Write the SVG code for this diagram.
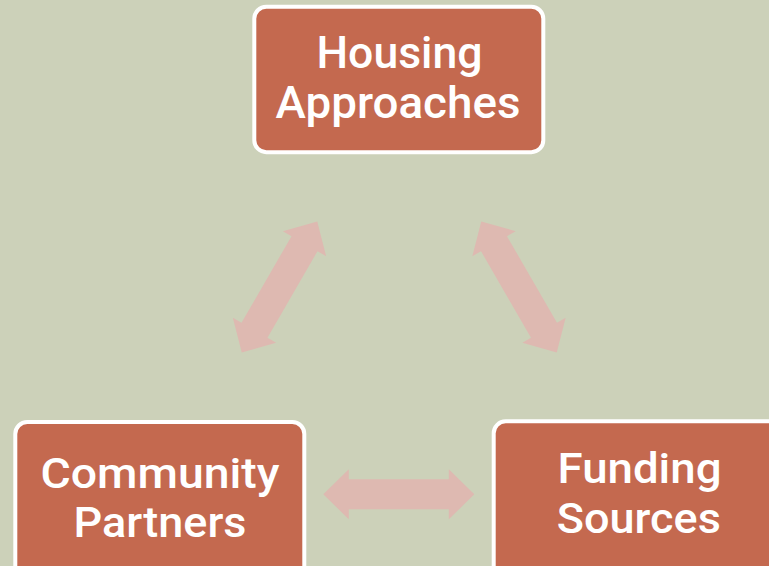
<svg xmlns="http://www.w3.org/2000/svg" width="769" height="566" viewBox="0 0 769 566">
<defs>
<style>
.box{fill:#C4694F;stroke:#FFFFFF;stroke-width:4}
.lbl{font-family:Roboto,"Liberation Sans",Arial,sans-serif;font-weight:500;fill:#FFFFFF;text-anchor:middle}
.top{font-size:45px}
.bot{font-size:42px}
.arr{fill:#DEB9B1}
</style>
<path id="dblarrow" d="M-75.5,0 L-50,-25 L-50,-15 L50,-15 L50,-25 L75.5,0 L50,25 L50,15 L-50,15 L-50,25 Z"/>
</defs>
<rect width="769" height="566" fill="#CCD1B9"/>
<g id="connectors">
<use href="#dblarrow" class="arr" transform="translate(279.5,287) rotate(-60)"/>
<use href="#dblarrow" class="arr" transform="translate(519,287) rotate(60)"/>
<use href="#dblarrow" class="arr" transform="translate(398.8,494.3)"/>
</g>
<g id="housing">
<rect class="box" x="254.3" y="6.7" width="289" height="145.5" rx="12"/>
<text class="lbl top" x="399.5" y="68.3" textLength="166" lengthAdjust="spacingAndGlyphs">Housing</text>
<text class="lbl top" x="398" y="118.3" textLength="245" lengthAdjust="spacingAndGlyphs">Approaches</text>
</g>
<g id="community">
<rect class="box" x="15.3" y="422" width="289" height="170" rx="12"/>
<text class="lbl bot" x="160" y="487.5" textLength="239" lengthAdjust="spacingAndGlyphs">Community</text>
<text class="lbl bot" x="160" y="536.7" textLength="173" lengthAdjust="spacingAndGlyphs">Partners</text>
</g>
<g id="funding">
<rect class="box" x="493.7" y="421.3" width="289" height="170" rx="12"/>
<text class="lbl bot" x="639.5" y="483.3" textLength="164" lengthAdjust="spacingAndGlyphs">Funding</text>
<text class="lbl bot" x="638.8" y="532.7" textLength="164" lengthAdjust="spacingAndGlyphs">Sources</text>
</g>
</svg>
